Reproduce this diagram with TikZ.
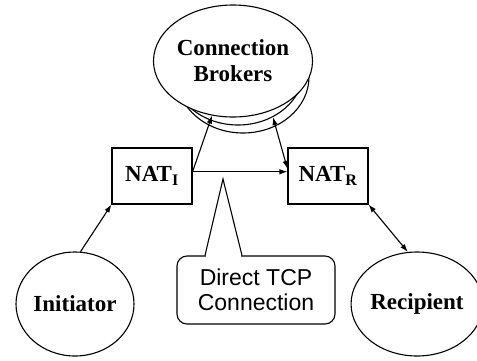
\documentclass[tikz,border=0pt]{standalone}
\usepackage{fontspec}
\setmainfont{Liberation Serif}
\setsansfont{Liberation Sans}
\usetikzlibrary{shapes.geometric}
\usetikzlibrary{arrows.meta}
\tikzset{
	peer/.style={
			draw, ellipse, fill=white, inner sep=0pt,
			minimum width=118pt, minimum height=104pt,
			font=\bfseries\fontsize{23}{26}\selectfont, align=center
		},
	broker/.style={
			peer, minimum width=132pt, minimum height=112pt
		},
	natbox/.style={
			draw, inner sep=0pt, minimum width=80pt, minimum height=56pt,
			font=\bfseries\fontsize{23}{26}\selectfont
		},
	callbox/.style={
			draw, rounded corners=10pt, inner sep=0pt,
			minimum width=158pt, minimum height=68pt,
			font=\sffamily\fontsize{23}{25}\selectfont, align=center
		},
	link/.style={-{Latex[length=8pt,width=5.5pt]}},
	twoway/.style={{Latex[length=8pt,width=5.5pt]}-{Latex[length=8pt,width=5.5pt]}}
}

\begin{document}
\begin{tikzpicture}[x=1pt, y=-1pt, line width=1.1pt]
			\useasboundingbox (0,0) rectangle (477,360);

			% stack of brokers, back to front
			\node [broker] (brokersB) at (243,77) {};
			\node [broker] (brokersA) at (238,69) {};
			\node [broker] (brokers) at (233,61) {Connection\\Brokers};

			\node [natbox] (nati) at (152,176) {NAT\textsubscript{I}};
			\node [natbox] (natr) at (328,176) {NAT\textsubscript{R}};

			\node [peer] (init) at (75,304) {Initiator};
			\node [peer] (recip) at (417,304) {Recipient};

			% callout
			\node [callbox] (tcp) at (256,290) {Direct TCP\\Connection};
			\coordinate (tip) at (223,179);
			\fill [white] ([xshift=-50pt,yshift=-1.5pt]tcp.north) rectangle ([xshift=-15pt,yshift=1.5pt]tcp.north);
			\draw [line join=miter] ([xshift=-51pt]tcp.north) -- (tip) -- ([xshift=-14pt]tcp.north);

			\draw [link] (nati.6) -- (brokers.249);
			\draw [link] (nati.6) -- (natr.174);
			\draw [twoway] (brokersA.306) -- (natr.170);
			\draw [link] (init.84) -- (nati.south west);
			\draw [twoway] (natr.south east) -- (recip.100);
		\end{tikzpicture}
\end{document}
